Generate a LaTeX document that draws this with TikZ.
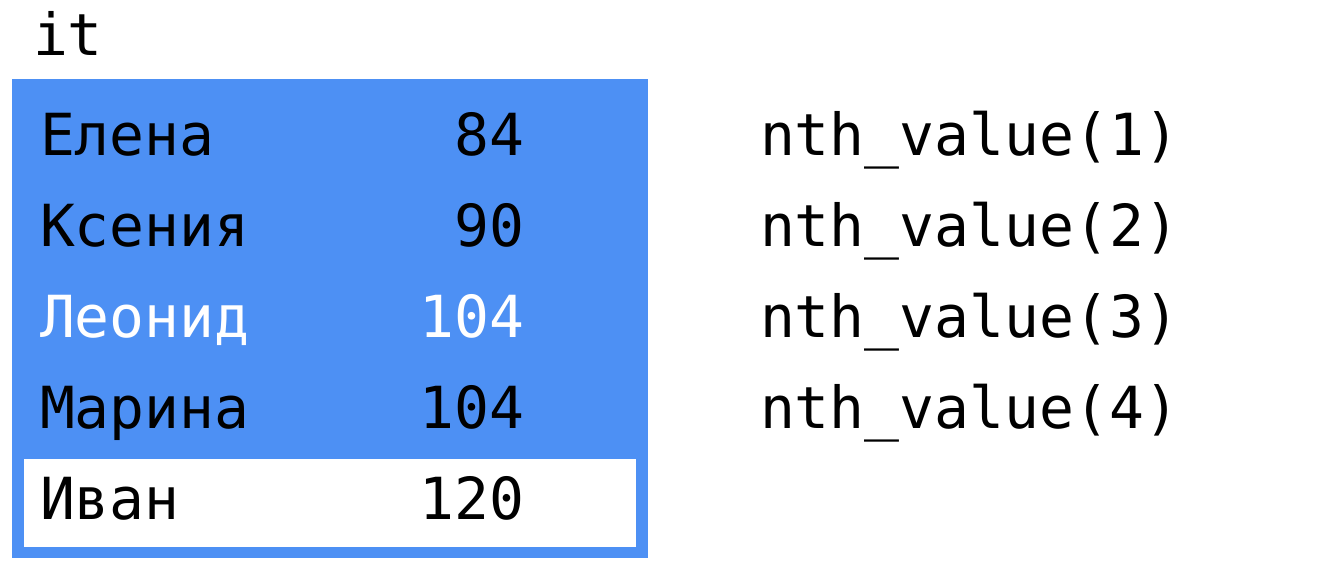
\documentclass[tikz,border=0pt]{standalone}
\usepackage{fontspec}
\setmonofont{DejaVu Sans Mono}
\definecolor{rowblue}{RGB}{77,144,244}
\begin{document}
\begin{tikzpicture}[x=1pt,y=-1pt,
  txt/.style={font=\ttfamily\fontsize{58}{58}\selectfont, inner sep=0pt, outer sep=0pt, anchor=base west},
  num/.style={font=\ttfamily\fontsize{58}{58}\selectfont, inner sep=0pt, outer sep=0pt, anchor=base east}]
\useasboundingbox (0,0) rectangle (1338,575);
\fill[rowblue] (12,79) rectangle (648,558);
\fill[white] (24,459) rectangle (636,547);
\node[txt] (it) at (33,56) {it};
\node[txt] (n1) at (40,155) {Елена};
\node[num] (v1) at (524,155) {84};
\node[txt] (n2) at (40,246) {Ксения};
\node[num] (v2) at (524,246) {90};
\node[txt,text=white] (n3) at (40,337) {Леонид};
\node[num,text=white] (v3) at (524,337) {104};
\node[txt] (n4) at (40,428) {Марина};
\node[num] (v4) at (524,428) {104};
\node[txt] (n5) at (40,519) {Иван};
\node[num] (v5) at (524,519) {120};
\node[txt] (f1) at (760,155) {nth\_value(1)};
\node[txt] (f2) at (760,246) {nth\_value(2)};
\node[txt] (f3) at (760,337) {nth\_value(3)};
\node[txt] (f4) at (760,428) {nth\_value(4)};
\end{tikzpicture}
\end{document}
